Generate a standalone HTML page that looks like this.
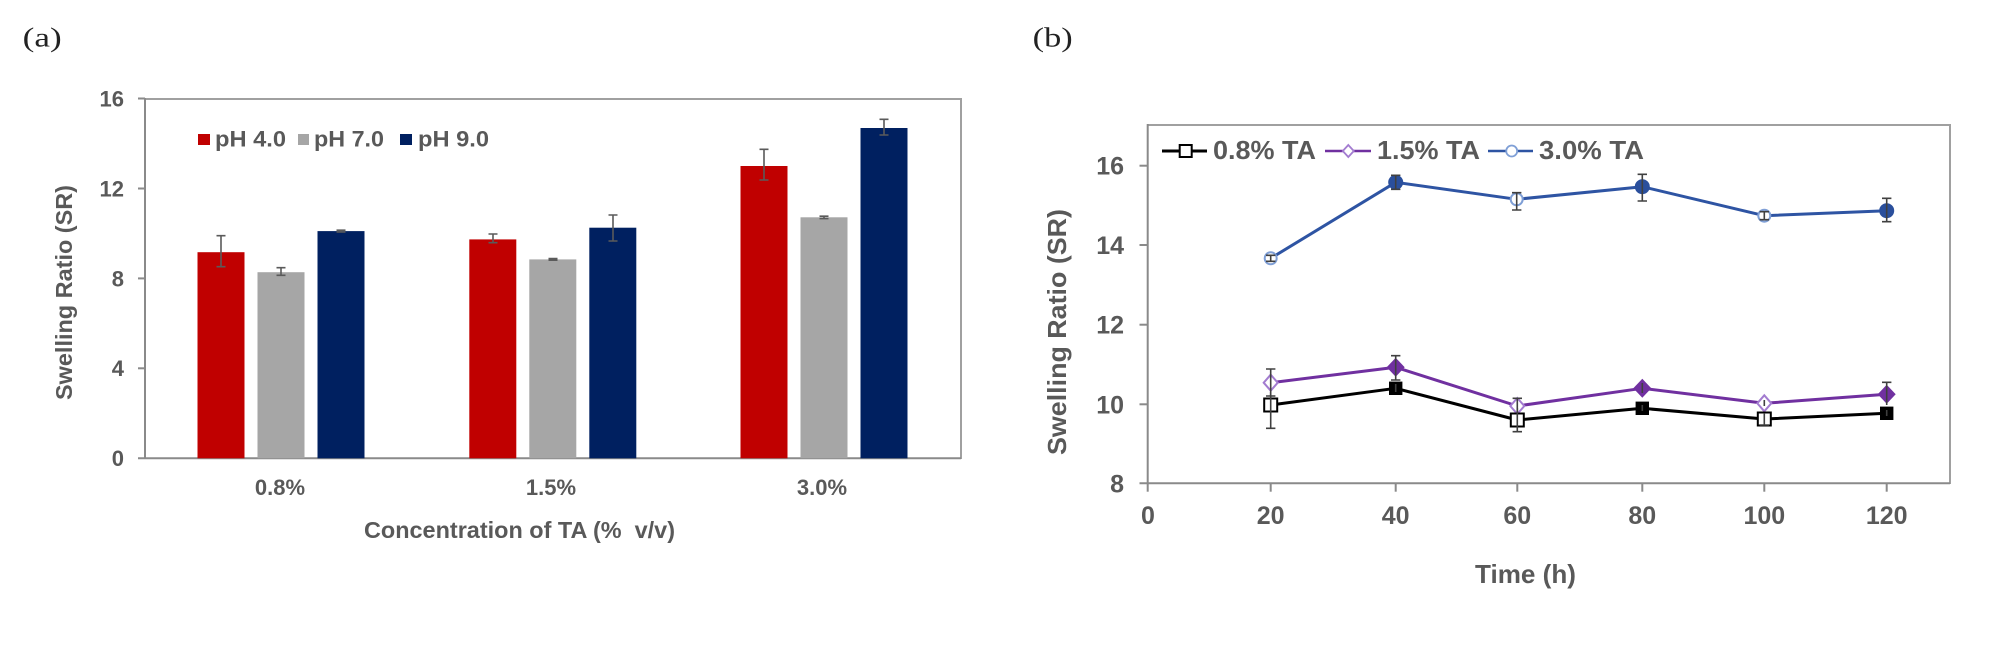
<!DOCTYPE html>
<html>
<head>
<meta charset="utf-8">
<style>
html,body{margin:0;padding:0;background:#fff;}
svg{display:block;}
text{font-family:"Liberation Sans",Arial,sans-serif;}
.t{fill:#595959;font-weight:bold;}
.s{font-family:"Liberation Serif","Times New Roman",serif;fill:#222;}
</style>
</head>
<body>
<svg width="2008" height="664" viewBox="0 0 2008 664" xmlns="http://www.w3.org/2000/svg">
<rect x="0" y="0" width="2008" height="664" fill="#fff"/>

<!-- ================= (a) ================= -->
<text class="s" x="22.7" y="46.5" font-size="27" textLength="39" lengthAdjust="spacingAndGlyphs">(a)</text>

<!-- frame -->
<line x1="145" y1="99" x2="961" y2="99" stroke="#a0a0a0" stroke-width="2"/>
<line x1="961" y1="98" x2="961" y2="459" stroke="#a0a0a0" stroke-width="2"/>
<line x1="145" y1="98" x2="145" y2="459" stroke="#8a8a8a" stroke-width="2"/>
<line x1="138" y1="458.3" x2="961" y2="458.3" stroke="#8a8a8a" stroke-width="2"/>
<!-- y ticks -->
<g stroke="#8a8a8a" stroke-width="2">
<line x1="138" y1="98.5" x2="145" y2="98.5"/>
<line x1="138" y1="188.5" x2="145" y2="188.5"/>
<line x1="138" y1="278.4" x2="145" y2="278.4"/>
<line x1="138" y1="368.3" x2="145" y2="368.3"/>
</g>
<g class="t" font-size="22" text-anchor="end">
<text x="124" y="106.5">16</text>
<text x="124" y="196.5">12</text>
<text x="124" y="286.3">8</text>
<text x="124" y="376.2">4</text>
<text x="124" y="466.2">0</text>
</g>

<!-- bars -->
<g>
<rect x="197.5" y="252.2" width="47" height="206.1" fill="#c00000"/>
<rect x="257.5" y="272.2" width="47" height="186.1" fill="#a6a6a6"/>
<rect x="317.5" y="231.1" width="47" height="227.2" fill="#002060"/>

<rect x="469.3" y="239.4" width="47" height="218.9" fill="#c00000"/>
<rect x="529.3" y="259.4" width="47" height="198.9" fill="#a6a6a6"/>
<rect x="589.3" y="227.7" width="47" height="230.6" fill="#002060"/>

<rect x="740.5" y="166.0" width="47" height="292.3" fill="#c00000"/>
<rect x="800.5" y="217.3" width="47" height="241.0" fill="#a6a6a6"/>
<rect x="860.5" y="128.0" width="47" height="330.3" fill="#002060"/>
</g>
<!-- error bars -->
<g stroke="#5a5a5a" stroke-width="1.6" fill="none">
<path d="M221,235.7V266.7M216.5,235.7H225.5M216.5,266.7H225.5"/>
<path d="M281,267.7V275.3M276.5,267.7H285.5M276.5,275.3H285.5"/>
<path d="M341,230.2V232M336.5,230.2H345.5M336.5,232H345.5"/>
<path d="M493,234V242.7M488.5,234H497.5M488.5,242.7H497.5"/>
<path d="M553,258.6V260.2M548.5,258.6H557.5M548.5,260.2H557.5"/>
<path d="M613,215V241M608.5,215H617.5M608.5,241H617.5"/>
<path d="M764,149.3V180M759.5,149.3H768.5M759.5,180H768.5"/>
<path d="M824,216.2V218.6M819.5,216.2H828.5M819.5,218.6H828.5"/>
<path d="M884,119.3V135M879.5,119.3H888.5M879.5,135H888.5"/>
</g>

<!-- legend a -->
<rect x="198" y="134" width="12" height="11" fill="#c00000"/>
<text class="t" x="215" y="146.5" font-size="22" textLength="71" lengthAdjust="spacingAndGlyphs">pH 4.0</text>
<rect x="298" y="134" width="11" height="11" fill="#a6a6a6"/>
<text class="t" x="314" y="146.5" font-size="22" textLength="70" lengthAdjust="spacingAndGlyphs">pH 7.0</text>
<rect x="400" y="134" width="12" height="11" fill="#002060"/>
<text class="t" x="418" y="146.5" font-size="22" textLength="71" lengthAdjust="spacingAndGlyphs">pH 9.0</text>

<!-- x labels a -->
<g class="t" font-size="22" text-anchor="middle">
<text x="280" y="495">0.8%</text>
<text x="551" y="495">1.5%</text>
<text x="822" y="495">3.0%</text>
</g>
<text class="t" x="364" y="538" font-size="23" textLength="311" lengthAdjust="spacingAndGlyphs" xml:space="preserve">Concentration of TA (%  v/v)</text>
<text class="t" transform="translate(72,292.5) rotate(-90)" x="0" y="0" font-size="23" text-anchor="middle" textLength="215" lengthAdjust="spacingAndGlyphs">Swelling Ratio (SR)</text>

<!-- ================= (b) ================= -->
<text class="s" x="1032.7" y="46.5" font-size="27" textLength="40" lengthAdjust="spacingAndGlyphs">(b)</text>

<line x1="1147.7" y1="125" x2="1950" y2="125" stroke="#a0a0a0" stroke-width="2"/>
<line x1="1950" y1="124" x2="1950" y2="484" stroke="#a0a0a0" stroke-width="2"/>
<line x1="1147.7" y1="124" x2="1147.7" y2="484" stroke="#8a8a8a" stroke-width="2"/>
<line x1="1139.5" y1="483.3" x2="1950" y2="483.3" stroke="#8a8a8a" stroke-width="2"/>
<g stroke="#8a8a8a" stroke-width="2">
<line x1="1139.5" y1="165.7" x2="1147.7" y2="165.7"/>
<line x1="1139.5" y1="245" x2="1147.7" y2="245"/>
<line x1="1139.5" y1="324.7" x2="1147.7" y2="324.7"/>
<line x1="1139.5" y1="404.3" x2="1147.7" y2="404.3"/>
<line x1="1147.7" y1="483.3" x2="1147.7" y2="491.7"/>
<line x1="1270.7" y1="483.3" x2="1270.7" y2="491.7"/>
<line x1="1395.7" y1="483.3" x2="1395.7" y2="491.7"/>
<line x1="1517.3" y1="483.3" x2="1517.3" y2="491.7"/>
<line x1="1642.3" y1="483.3" x2="1642.3" y2="491.7"/>
<line x1="1764.3" y1="483.3" x2="1764.3" y2="491.7"/>
<line x1="1886.7" y1="483.3" x2="1886.7" y2="491.7"/>
</g>
<g class="t" font-size="25" text-anchor="end">
<text x="1124" y="174.7">16</text>
<text x="1124" y="254">14</text>
<text x="1124" y="333.7">12</text>
<text x="1124" y="413.3">10</text>
<text x="1124" y="492.3">8</text>
</g>
<g class="t" font-size="25" text-anchor="middle">
<text x="1148" y="524">0</text>
<text x="1270.7" y="524">20</text>
<text x="1395.7" y="524">40</text>
<text x="1517.3" y="524">60</text>
<text x="1642.3" y="524">80</text>
<text x="1764.3" y="524">100</text>
<text x="1886.7" y="524">120</text>
</g>
<text class="t" x="1475" y="583" font-size="26" textLength="101" lengthAdjust="spacingAndGlyphs">Time (h)</text>
<text class="t" transform="translate(1066,332) rotate(-90)" x="0" y="0" font-size="26" text-anchor="middle" textLength="246" lengthAdjust="spacingAndGlyphs">Swelling Ratio (SR)</text>

<!-- series lines -->
<polyline fill="none" stroke="#2e54a3" stroke-width="3" stroke-linejoin="round" points="1270.7,258.3 1395.7,182.3 1516.7,199.3 1642.3,186.7 1764.3,215.7 1886.7,210.7"/>
<polyline fill="none" stroke="#7030a0" stroke-width="3" stroke-linejoin="round" points="1270.7,382.7 1395.7,367.3 1517.3,406 1642.3,388.3 1764.3,403.3 1886.7,394.3"/>
<polyline fill="none" stroke="#000" stroke-width="3" stroke-linejoin="round" points="1270.7,405 1395.7,388.3 1517.3,420 1642.3,408.3 1764.3,419 1886.7,413.3"/>

<!-- markers -->
<g>
<circle cx="1270.7" cy="258.3" r="6" fill="#fff" stroke="#7f9fd6" stroke-width="2"/>
<circle cx="1395.7" cy="182.3" r="7.5" fill="#2a4f9c"/>
<circle cx="1516.7" cy="199.3" r="6" fill="#fff" stroke="#7f9fd6" stroke-width="2"/>
<circle cx="1642.3" cy="186.7" r="7.5" fill="#2a4f9c"/>
<circle cx="1764.3" cy="215.7" r="6" fill="#fff" stroke="#7f9fd6" stroke-width="2"/>
<circle cx="1886.7" cy="210.7" r="7.5" fill="#2a4f9c"/>

<path d="M1270.7,374.7 l7,8 l-7,8 l-7,-8z" fill="#fff" stroke="#a37cd0" stroke-width="2"/>
<path d="M1395.7,357.8 l9,9.5 l-9,9.5 l-9,-9.5z" fill="#7030a0"/>
<path d="M1517.3,398 l7,8 l-7,8 l-7,-8z" fill="#fff" stroke="#a37cd0" stroke-width="2"/>
<path d="M1642.3,378.8 l9,9.5 l-9,9.5 l-9,-9.5z" fill="#7030a0"/>
<path d="M1764.3,395.3 l7,8 l-7,8 l-7,-8z" fill="#fff" stroke="#a37cd0" stroke-width="2"/>
<path d="M1886.7,384.8 l9,9.5 l-9,9.5 l-9,-9.5z" fill="#7030a0"/>

<rect x="1264.2" y="398.5" width="13" height="13" fill="#fff" stroke="#000" stroke-width="2"/>
<rect x="1389" y="381.6" width="13.4" height="13.4" fill="#000"/>
<rect x="1510.8" y="413.5" width="13" height="13" fill="#fff" stroke="#000" stroke-width="2"/>
<rect x="1635.6" y="401.6" width="13.4" height="13.4" fill="#000"/>
<rect x="1757.8" y="412.5" width="13" height="13" fill="#fff" stroke="#000" stroke-width="2"/>
<rect x="1880" y="406.6" width="13.4" height="13.4" fill="#000"/>
</g>

<!-- error bars b -->
<g stroke="#404040" stroke-width="1.6" fill="none">
<path d="M1270.7,255.3V261.3M1266,255.3H1275.4M1266,261.3H1275.4"/>
<path d="M1395.7,175.3V189.3M1391,175.3H1400.4M1391,189.3H1400.4"/>
<path d="M1516.7,192.7V210M1512,192.7H1521.4M1512,210H1521.4"/>
<path d="M1642.3,174.3V201M1637.6,174.3H1647M1637.6,201H1647"/>
<path d="M1764.3,211.7V219.7M1759.6,211.7H1769M1759.6,219.7H1769"/>
<path d="M1886.7,198.3V221.7M1882,198.3H1891.4M1882,221.7H1891.4"/>

<path d="M1270.7,369V396M1266,369H1275.4M1266,396H1275.4"/>
<path d="M1395.7,355.7V380M1391,355.7H1400.4M1391,380H1400.4"/>
<path d="M1517.3,398.3V412M1512.6,398.3H1522"/>
<path d="M1642.3,383V393"/>
<path d="M1764.3,400V406"/>
<path d="M1886.7,382.3V405M1882,382.3H1891.4"/>

<path d="M1270.7,392V428.3M1266,428.3H1275.4"/>
<path d="M1395.7,384V392"/>
<path d="M1517.3,408V431.7M1512.6,431.7H1522"/>
<path d="M1642.3,405V411"/>
<path d="M1764.3,413V425M1759.6,425H1769"/>
<path d="M1886.7,410V416"/>
</g>

<!-- legend b -->
<line x1="1162" y1="151" x2="1207" y2="151" stroke="#000" stroke-width="3"/>
<rect x="1179.7" y="145" width="12" height="12" fill="#fff" stroke="#000" stroke-width="2"/>
<text class="t" x="1213" y="159" font-size="26" textLength="103" lengthAdjust="spacingAndGlyphs">0.8% TA</text>
<line x1="1325" y1="151" x2="1371" y2="151" stroke="#7030a0" stroke-width="2.5"/>
<path d="M1348.3,145 l5.5,6 l-5.5,6 l-5.5,-6z" fill="#fff" stroke="#a37cd0" stroke-width="1.8"/>
<text class="t" x="1377" y="159" font-size="26" textLength="103" lengthAdjust="spacingAndGlyphs">1.5% TA</text>
<line x1="1488" y1="151" x2="1533" y2="151" stroke="#2e54a3" stroke-width="2.5"/>
<circle cx="1511.7" cy="151" r="5.5" fill="#fff" stroke="#7f9fd6" stroke-width="1.8"/>
<text class="t" x="1539" y="159" font-size="26" textLength="105" lengthAdjust="spacingAndGlyphs">3.0% TA</text>
</svg>
</body>
</html>
